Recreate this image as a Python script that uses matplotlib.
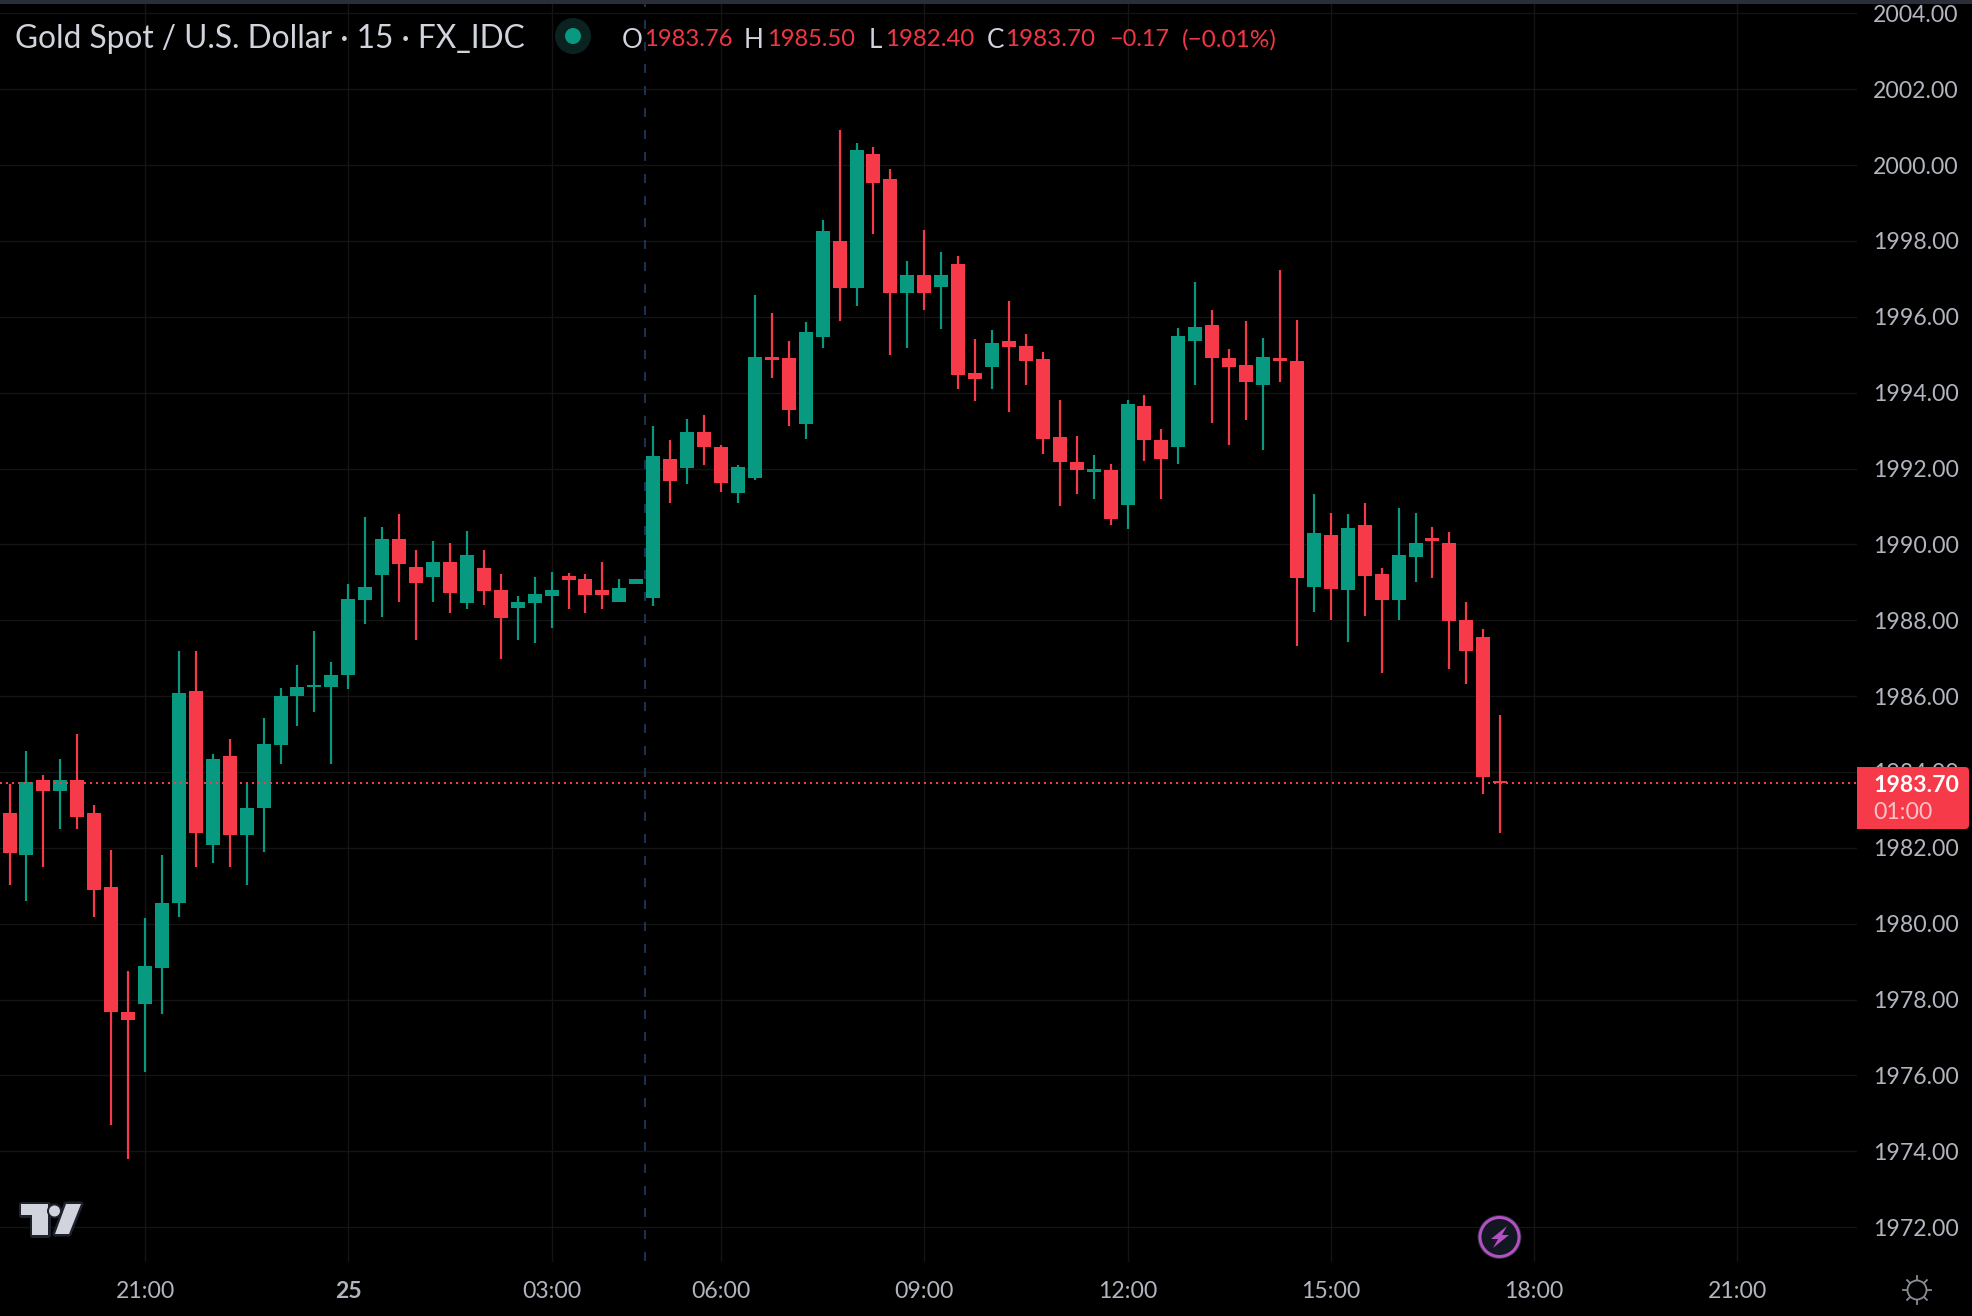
import matplotlib
matplotlib.use("Agg")
import matplotlib.pyplot as plt
from matplotlib.patches import Circle, Polygon, FancyBboxPatch, Rectangle
import numpy as np
import logging
logging.getLogger("matplotlib.font_manager").setLevel(logging.ERROR)

opens = [1982.93,1981.80,1983.80,1983.50,1983.80,1982.93,1980.97,1977.68,1977.87,1978.84,
1980.55,1986.14,1982.08,1984.41,1982.33,1983.06,1984.72,1985.99,1986.23,1986.25,
1986.56,1988.54,1989.20,1990.13,1989.41,1989.15,1989.54,1988.46,1989.39,1988.80,
1988.33,1988.46,1988.65,1989.17,1989.09,1988.80,1988.49,1988.96,1988.59,1992.26,
1992.02,1992.97,1992.57,1991.36,1991.76,1994.95,1994.92,1993.18,1995.47,1998.00,
1996.76,2000.29,1999.63,1996.63,1997.10,1996.79,1997.39,1994.53,1994.68,1995.37,
1995.24,1994.89,1992.82,1992.18,1991.92,1991.95,1991.03,1993.66,1992.76,1992.58,
1995.37,1995.79,1994.92,1994.74,1994.21,1994.92,1994.84,1988.87,1990.24,1988.79,
1990.50,1989.21,1988.53,1989.68,1990.16,1990.05,1988.00,1987.55,1983.76]
closes = [1981.87,1983.74,1983.50,1983.80,1982.82,1980.90,1977.68,1977.47,1978.89,1980.55,
1986.07,1982.40,1984.35,1982.33,1983.06,1984.75,1986.01,1986.25,1986.29,1986.56,
1988.56,1988.88,1990.15,1989.49,1988.99,1989.54,1988.71,1989.71,1988.78,1988.07,
1988.49,1988.70,1988.80,1989.07,1988.67,1988.67,1988.86,1989.09,1992.34,1991.68,
1992.97,1992.57,1991.63,1992.05,1994.95,1994.87,1993.55,1995.60,1998.26,1996.76,
2000.39,1999.52,1996.63,1997.10,1996.63,1997.10,1994.47,1994.37,1995.32,1995.21,
1994.84,1992.79,1992.18,1991.97,1992.00,1990.68,1993.71,1992.76,1992.26,1995.50,
1995.74,1994.92,1994.68,1994.29,1994.95,1994.84,1989.11,1990.29,1988.82,1990.42,
1989.18,1988.53,1989.71,1990.05,1990.08,1987.97,1987.18,1983.87,1983.70]
highs = [1983.67,1984.56,1983.93,1984.35,1985.01,1983.14,1981.93,1978.76,1980.16,1981.82,
1987.20,1987.18,1984.48,1984.86,1983.67,1985.43,1986.22,1986.83,1987.73,1986.90,
1988.96,1990.71,1990.47,1990.81,1989.86,1990.09,1990.05,1990.36,1989.84,1989.23,
1988.65,1989.15,1989.28,1989.25,1989.23,1989.54,1989.09,1989.09,1993.13,1992.76,
1993.31,1993.42,1992.63,1992.10,1996.58,1996.10,1995.37,1995.87,1998.55,2000.92,
2000.58,2000.47,1999.89,1997.47,1998.29,1997.71,1997.60,1995.42,1995.66,1996.42,
1995.55,1995.08,1993.82,1992.87,1992.37,1992.11,1993.82,1993.95,1993.03,1995.71,
1996.92,1996.18,1995.16,1995.89,1995.45,1997.24,1995.92,1991.34,1990.82,1990.79,
1991.08,1989.39,1990.95,1990.84,1990.45,1990.32,1988.47,1987.76,1985.50]
lows = [1981.01,1980.61,1981.50,1982.50,1982.50,1980.18,1974.70,1973.80,1976.10,1977.61,
1980.18,1981.50,1981.61,1981.50,1981.01,1981.90,1984.20,1985.20,1985.59,1984.20,
1986.20,1987.90,1988.09,1988.49,1987.49,1988.49,1988.20,1988.31,1988.39,1986.99,
1987.49,1987.41,1987.80,1988.30,1988.20,1988.30,1988.49,1988.96,1988.38,1991.10,
1991.60,1992.10,1991.39,1991.10,1991.71,1994.39,1993.11,1992.79,1995.18,1995.89,
1996.29,1998.18,1995.00,1995.18,1996.18,1995.68,1994.10,1993.79,1994.10,1993.50,
1994.21,1992.39,1991.00,1991.32,1991.21,1990.50,1990.40,1992.21,1991.21,1992.11,
1994.21,1993.21,1992.61,1993.29,1992.50,1994.29,1987.32,1988.21,1988.00,1987.42,
1988.11,1986.61,1988.00,1989.00,1989.11,1986.71,1986.32,1983.42,1982.40]

time_ticks = [8, 20, 32, 42, 54, 66, 78, 90, 102]
time_labels = ["21:00", "25", "03:00", "06:00", "09:00", "12:00", "15:00", "18:00", "21:00"]
price_ticks = list(range(1972, 2006, 2))
last_price = 1983.70
session_marker = 37.5

W, H = 1972, 1316
BG = "#000000"; GRID = "#141414"; GREEN = "#089981"; RED = "#F63A4A"; AXTXT = "#B2B5BE"; TITLE = "#D1D4DC"
FONT = ["Lato", "DejaVu Sans"]
px = 72 / 100
STEP, X0 = 16.94, 9.5

fig = plt.figure(figsize=(W / 100, H / 100), dpi=100, facecolor=BG)
L, R, T, B = 0, 1857, 4, 1261.5
ax = fig.add_axes([L / W, 1 - B / H, (R - L) / W, (B - T) / H], facecolor=BG)
ax.set_xlim((0 - X0) / STEP, (1857 - X0) / STEP)
ax.set_ylim(1990 - (B - 544.4) / 37.93, 1990 + (544.4 - T) / 37.93)
for s in ax.spines.values():
    s.set_visible(False)
ax.set_axisbelow(True)
ax.grid(True, color=GRID, lw=1.4 * px)
ax.yaxis.tick_right()
ax.set_yticks(price_ticks, [f"{p:.2f}" for p in price_ticks])
ax.set_xticks(time_ticks, time_labels)
ax.tick_params(axis="both", length=0, colors=AXTXT, labelsize=23 * px)
ax.tick_params(axis="y", pad=16 * px)
ax.tick_params(axis="x", pad=19 * px)
for lab in ax.get_yticklabels() + ax.get_xticklabels():
    lab.set_family(FONT)
ax.get_xticklabels()[1].set_fontweight("bold")

o, h, l, c = map(np.array, (opens, highs, lows, closes))
idx = np.arange(len(o))
colors = [GREEN if cc >= oo else RED for oo, cc in zip(o, c)]
ax.vlines(session_marker, ax.get_ylim()[0], ax.get_ylim()[1], color="#1E3050", lw=2 * px,
          linestyles=(0, (4.5, 6.5)), zorder=1.5)
ax.vlines(idx, l, h, colors=colors, lw=2.2 * px, zorder=2)
ax.bar(idx, np.abs(c - o), bottom=np.minimum(o, c), width=14 / STEP, color=colors, linewidth=0, zorder=3)
ax.axhline(last_price, color=RED, lw=2 * px, linestyle=(0, (1, 2)), zorder=4)

ov = fig.add_axes([0, 0, 1, 1], facecolor="none")
ov.set_xlim(0, W); ov.set_ylim(H, 0); ov.axis("off")
ov.add_patch(Rectangle((0, 0), W, 4, color="#2A2E39", lw=0))

rend = fig.canvas.get_renderer()
def fit(s, x0, x1, y, color, **kw):
    t = ov.text(x0, y, s, color=color, family=FONT, fontsize=20, va="center", ha="left", **kw)
    w = t.get_window_extent(rend).width
    t.set_fontsize(20 * (x1 - x0) / w)
    return t

fit("Gold Spot / U.S. Dollar · 15 · FX_IDC", 15, 523, 39, TITLE)
ov.add_patch(Circle((573, 36), 18, color="#0A2320", lw=0))
ov.add_patch(Circle((573, 36), 8, color=GREEN, lw=0))
legend_letters = [("O", 632), ("H", 754), ("L", 875), ("C", 995)]
for s, xc in legend_letters:
    ov.text(xc, 40, s, color=TITLE, family=FONT, fontsize=26 * px, va="center", ha="center")
legend_values = [("1983.76", 644, 732), ("1985.50", 767, 855), ("1982.40", 885, 974), ("1983.70", 1005, 1095),
                 ("−0.17", 1109, 1169), ("(−0.01%)", 1182, 1277)]
for s, x0, x1 in legend_values:
    fit(s, x0, x1, 40, "#F23645")

# price tag
ov.add_patch(FancyBboxPatch((1857, 767), 112, 62, boxstyle="round,pad=0,rounding_size=4", color=RED, lw=0))
ov.add_patch(Rectangle((1857, 767), 8, 62, color=RED, lw=0))
ov.text(1873, 785, f"{last_price:.2f}", color="white", family=FONT, fontsize=23 * px, va="center", ha="left", fontweight="bold")
ov.text(1873, 812.5, "01:00", color="#FBC3C8", family=FONT, fontsize=23 * px, va="center", ha="left")

# logo
LOGO_EDGE = "#1E222D"; LOGO = "#D1D4DC"
y0 = 1180
t_shape = [(21, y0 + 24), (48, y0 + 24), (48, y0 + 55), (32, y0 + 55), (32, y0 + 35), (21, y0 + 35)]
slash = [(66, y0 + 24), (81, y0 + 24), (69, y0 + 54), (55, y0 + 54)]
for poly in (t_shape, slash):
    ov.add_patch(Polygon(poly, closed=True, fc=LOGO, ec=LOGO_EDGE, lw=5 * px, joinstyle="round"))
    ov.add_patch(Polygon(poly, closed=True, fc=LOGO, ec="none"))
ov.add_patch(Circle((54.5, y0 + 31), 7.5, color=LOGO_EDGE, lw=0))
ov.add_patch(Circle((54.5, y0 + 31), 5.5, color=LOGO, lw=0))

# lightning badge
ov.add_patch(Circle((1499.5, 1237), 22, color="#2A2E39", lw=0))
ov.add_patch(Circle((1499.5, 1237), 19.5, fc="#131722", ec="#B44FC4", lw=3 * px))
bolt = [(1507, 1226), (1491, 1239), (1498, 1239), (1493, 1248), (1509, 1235), (1502, 1235)]
ov.add_patch(Polygon(bolt, closed=True, color="#B44FC4", lw=0))

# settings sun
sx, sy = 1917, 1290
ov.add_patch(Circle((sx, sy), 9.5, fc="none", ec="#8A8D96", lw=1.8 * px))
for a in np.deg2rad(np.arange(0, 360, 45)):
    ov.plot([sx + 10 * np.cos(a), sx + 14 * np.cos(a)], [sy + 10 * np.sin(a), sy + 14 * np.sin(a)], color="#8A8D96", lw=1.8 * px)

fig.savefig("out.png", dpi=100, facecolor=BG)
